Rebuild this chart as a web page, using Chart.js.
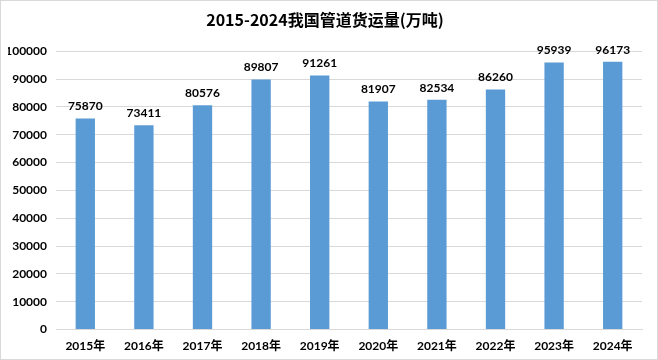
<!DOCTYPE html>
<html><head><meta charset="utf-8">
<script src="https://cdn.jsdelivr.net/npm/chart.js@4/dist/chart.umd.min.js"></script>
<style>
html,body{margin:0;padding:0;background:#fff;}
#wrap{position:relative;width:656px;height:358px;border:1px solid #d9d9d9;}
</style></head>
<body><div id="wrap"><canvas id="c" width="656" height="358"></canvas></div>
<script>
const categories = ["2015年","2016年","2017年","2018年","2019年","2020年","2021年","2022年","2023年","2024年"];
const freightValues = [75870,73411,80576,89807,91261,81907,82534,86260,95939,96173];
const titleText = "2015-2024我国管道货运量(万吨)";

const labelPlugin = {
  id: 'valueLabels',
  afterDatasetsDraw(chart) {
    const ctx = chart.ctx;
    const meta = chart.getDatasetMeta(0);
    ctx.save();
    ctx.font = "bold 12px Lato, 'Liberation Sans', sans-serif";
    ctx.fillStyle = "#000";
    ctx.textAlign = "center";
    ctx.textBaseline = "bottom";
    meta.data.forEach((bar, i) => {
      ctx.fillText(String(chart.data.datasets[0].data[i]), bar.x, bar.y - 6);
    });
    ctx.restore();
  }
};

new Chart(document.getElementById('c'), {
  type: 'bar',
  data: {
    labels: categories,
    datasets: [{
      data: freightValues,
      backgroundColor: '#5B9BD5',
      barPercentage: 0.33,
      categoryPercentage: 1.0
    }]
  },
  options: {
    responsive: false,
    animation: false,
    layout: { padding: { left: 7, right: 15, top: 0, bottom: 5 } },
    plugins: {
      legend: { display: false },
      tooltip: { enabled: false },
      title: {
        display: true,
        text: titleText,
        color: '#000',
        font: { family: "'Noto Sans CJK SC', sans-serif", size: 16, weight: 'bold' },
        padding: { top: 9, bottom: 22 }
      }
    },
    scales: {
      x: {
        grid: { display: false },
        border: { display: true, color: '#d9d9d9' },
        ticks: {
          color: '#000',
          font: { family: "Lato, 'Noto Sans CJK SC', sans-serif", size: 12, weight: 'bold' },
          maxRotation: 0, padding: 1
        }
      },
      y: {
        min: 0, max: 100000,
        afterFit(scale) { scale.width = 48; },
        grid: { color: '#d9d9d9', drawTicks: false },
        border: { display: false },
        ticks: {
          stepSize: 10000,
          color: '#000',
          padding: 9,
          callback: (v) => String(v),
          font: { family: "Lato, sans-serif", size: 12, weight: 'bold' }
        }
      }
    }
  },
  plugins: [labelPlugin]
});
</script></body></html>
